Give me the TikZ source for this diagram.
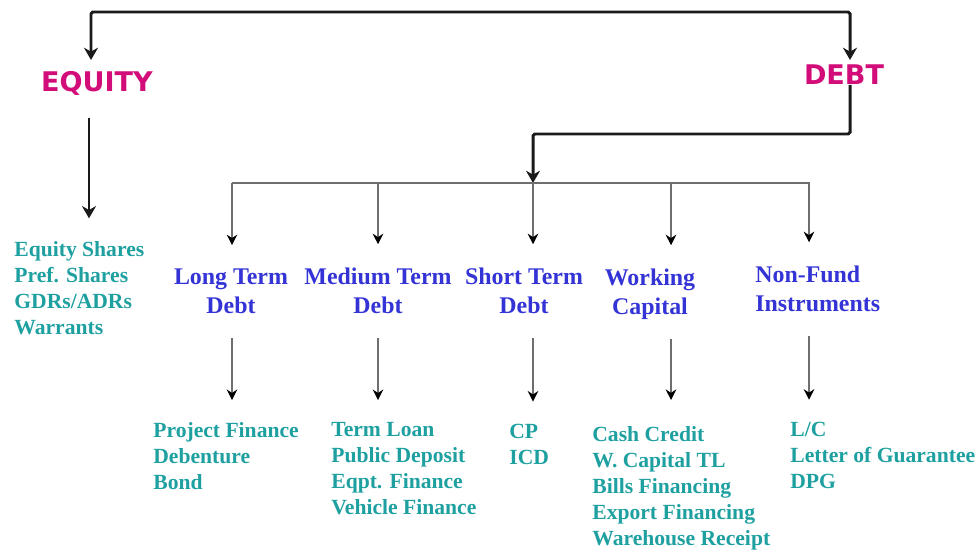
\documentclass[tikz,border=0pt]{standalone}
\usepackage{fontspec}
\setmainfont{Liberation Serif}
\newfontfamily\verdana{DejaVu Sans}
\usepackage{xcolor}
\usetikzlibrary{arrows.meta,positioning,calc}
\definecolor{inkK}{HTML}{1A1A1A}
\definecolor{cMag}{HTML}{D20C78}
\definecolor{cBlu}{HTML}{3434D6}
\definecolor{cTeal}{HTML}{1FA0A0}
\definecolor{lGry}{HTML}{6E6E6E}

% multi-line nodes sit on the baseline of their last line
\tikzset{
  head/.style={font=\verdana\bfseries\fontsize{15.4}{18}\selectfont,
               text=cMag, inner sep=0pt, anchor=base},
  cat/.style={font=\bfseries\fontsize{13.6}{16.5}\selectfont,
              text=cBlu, align=center, inner sep=0pt, anchor=base},
  items/.style={font=\bfseries\fontsize{12.3}{14.7}\selectfont,
                text=cTeal, align=left, inner sep=0pt, anchor=base west},
  thick link/.style={draw=inkK, line width=1.7pt,
                     -{Stealth[length=7pt,width=8pt]}},
  thin link/.style={draw=lGry, line width=0.85pt,
                    -{Stealth[length=6pt,width=6pt,color=black]}},
  bus line/.style={draw=lGry, line width=0.85pt}
}

\begin{document}
\begin{tikzpicture}[x=0.02cm, y=-0.02cm]
  \useasboundingbox (0,0) rectangle (979,550);

  % top level
  \node[head] (equity) at (97,92) {EQUITY};
  \node[head] (debt) at (844,85) {DEBT};
  \coordinate (eqIn) at (91,60);
  \coordinate (dbIn) at (850,60);
  \coordinate (topBar) at (470,12);
  \draw[thick link, rounded corners=1pt,
        {Stealth[length=7pt,width=8pt]}-{Stealth[length=7pt,width=8pt]}]
    (eqIn) |- (topBar) -| (dbIn);

  % equity side
  \node[items] (eq-items) at (14,334) {Equity Shares\\Pref. Shares\\GDRs/ADRs\\Warrants};
  \coordinate (eqOut) at (89,118);
  \draw[thick link, shorten >=13pt] (eqOut) -- (eqOut |- eq-items.north);

  % debt side
  \coordinate (bus) at (533,183);
  \draw[thick link, rounded corners=1pt] (debt.base -| dbIn) -- ++(0,49) -| (bus);

  \node[cat] (lt) at (231,313) {Long Term\\Debt};
  \node[cat] (mt) at (378,313) {Medium Term\\Debt};
  \node[cat] (st) at (524,313) {Short Term\\Debt};
  \node[cat] (wc) at (650,314) {Working\\Capital};
  \node[cat, align=left, anchor=base west] (nf) at (755,311) {Non-Fund\\Instruments};

  \node[items] (lt-items) at (153,489) {Project Finance\\Debenture\\Bond};
  \node[items] (mt-items) at (331,514) {Term Loan\\Public Deposit\\Eqpt. Finance\\Vehicle Finance};
  \node[items] (st-items) at (509,464) {CP\\ICD};
  \node[items] (wc-items) at (592,545) {Cash Credit\\W. Capital TL\\Bills Financing\\Export Financing\\Warehouse Receipt};
  \node[items] (nf-items) at (790,488) {L/C\\Letter of Guarantee\\DPG};

  \coordinate (busL) at (232,183);
  \coordinate (busR) at (810,183);
  \draw[bus line] (busL) -- (busR);

  \foreach \n/\x/\a/\b in {lt/232/14pt/12.5pt, mt/378/14pt/12.5pt, st/533/14pt/12.5pt,
                           wc/671/11pt/15pt, nf/809/14pt/12.5pt}{
    \coordinate (x\n) at (\x,183);
    \draw[thin link, shorten >=13pt] (x\n) -- (x\n |- \n.north);
    \draw[thin link, shorten <=\a, shorten >=\b]
      (x\n |- \n.south) -- (x\n |- \n-items.north);
  }
\end{tikzpicture}
\end{document}
